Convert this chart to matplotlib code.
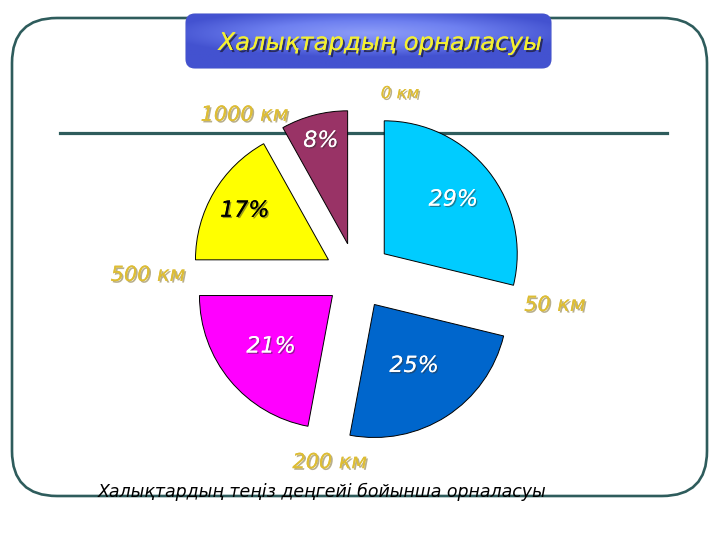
import numpy as np
import matplotlib
matplotlib.use('Agg')
import matplotlib.pyplot as plt
from matplotlib.patches import FancyBboxPatch
from matplotlib.colors import LinearSegmentedColormap
import matplotlib.patheffects as pe

# wedge sizes as measured from the slide's wedge angles (printed labels are rounded)
shares = [28.8, 24.15, 22.05, 16.9, 8.1]
pct_labels = ['29%', '25%', '21%', '17%', '8%']
heights = ['0 км', '50 км', '200 км', '500 км', '1000 км']
colors = ['#00CCFF', '#0066CC', '#FF00FF', '#FFFF00', '#993366']
pct_colors = ['white', 'white', 'white', 'black', 'white']

title = 'Халықтардың орналасуы'
caption = 'Халықтардың теңіз деңгейі бойынша орналасуы'

W, H = 720, 540
fig = plt.figure(figsize=(7.2, 5.4), dpi=100)
ax = fig.add_axes([0, 0, 1, 1])

teal = '#2E5C5C'

# slide frame and the sea-level line
frame = FancyBboxPatch((12, 44), 695, 478, boxstyle='round,pad=0,rounding_size=45',
                       facecolor='white', edgecolor=teal, linewidth=1.9, zorder=0)
ax.add_patch(frame)
ax.plot([60, 667], [407, 407], color=teal, linewidth=2.3, zorder=1)

# pie, exploded, clockwise from the top (explode is in data units here)
R = 133
explode = [0.27, 0.255, 0.23, 0.24, 0.25]
wedges, _ = ax.pie(shares, colors=colors, explode=[e * R for e in explode],
                   startangle=90, counterclock=False, radius=R, center=(356, 264),
                   wedgeprops=dict(edgecolor='black', linewidth=0.7),
                   frame=True)
for w in wedges:
    w.set_zorder(2)

# percent labels inside each wedge
pct_dist = [0.66, 0.55, 0.6, 0.73, 0.8]
for w, txt, c, d in zip(wedges, pct_labels, pct_colors, pct_dist):
    mid = np.deg2rad((w.theta1 + w.theta2) / 2)
    cx, cy = w.center
    ax.text(cx + d * R * np.cos(mid), cy + d * R * np.sin(mid), txt,
            ha='center', va='center', fontsize=16, style='italic', color=c,
            zorder=4,
            path_effects=[pe.withSimplePatchShadow(offset=(1, -1), shadow_rgbFace='#333333', alpha=0.5),
                          pe.Normal()])

# height labels at the wedge boundaries
bounds = 90 - np.concatenate([[0], np.cumsum(shares)[:-1]]) * 3.6
nudge = [-13.5, 5.4, 2.6, -0.3, 5.5]
dist = [188, 201, 188, 208, 196]
sizes = [12, 15, 15, 15, 15]
gold = '#DDBD35'
for b, lab, n, d, s in zip(bounds, heights, nudge, dist, sizes):
    a = np.deg2rad(b + n)
    ax.text(356 + d * np.cos(a), 264 + d * np.sin(a), lab, ha='center', va='center',
            fontsize=s, style='italic', color=gold, zorder=4,
            path_effects=[pe.withSimplePatchShadow(offset=(1.2, -1.2), shadow_rgbFace='#8a7a40', alpha=0.6),
                          pe.Normal()])

# title box with a soft blue gradient
tbox = FancyBboxPatch((186, 472), 365, 54, boxstyle='round,pad=0,rounding_size=9',
                      facecolor='#5a6ae0', edgecolor='#4a58c8', linewidth=0.8, zorder=5)
ax.add_patch(tbox)
gx = np.linspace(-1, 1, 256)
gy = np.linspace(-1, 1, 64)
X, Y = np.meshgrid(gx, gy)
glow = 1 - np.clip(np.sqrt((X * 0.9) ** 2 + ((Y - 0.3) * 1.1) ** 2), 0, 1)
cmap = LinearSegmentedColormap.from_list('tb', ['#4352D0', '#6E80F0', '#8C9CF8'])
img = ax.imshow(glow, extent=(186, 551, 472, 526), cmap=cmap, zorder=5.5,
                aspect='auto', origin='lower')
img.set_clip_path(tbox)
ax.text(380, 497, title, ha='center', va='center', fontsize=17.5, style='italic',
        color='#F4F030', zorder=6,
        path_effects=[pe.withSimplePatchShadow(offset=(1.5, -1.5), shadow_rgbFace='#202040', alpha=0.8),
                      pe.Normal()])

# caption over the bottom of the frame
ax.text(322, 48, caption, ha='center', va='center', fontsize=12.5, style='italic',
        color='black', zorder=6)

ax.set_xlim(0, W)
ax.set_ylim(0, H)
ax.set_aspect('equal')
ax.axis('off')

fig.savefig('out.png', dpi=100, facecolor='white')
